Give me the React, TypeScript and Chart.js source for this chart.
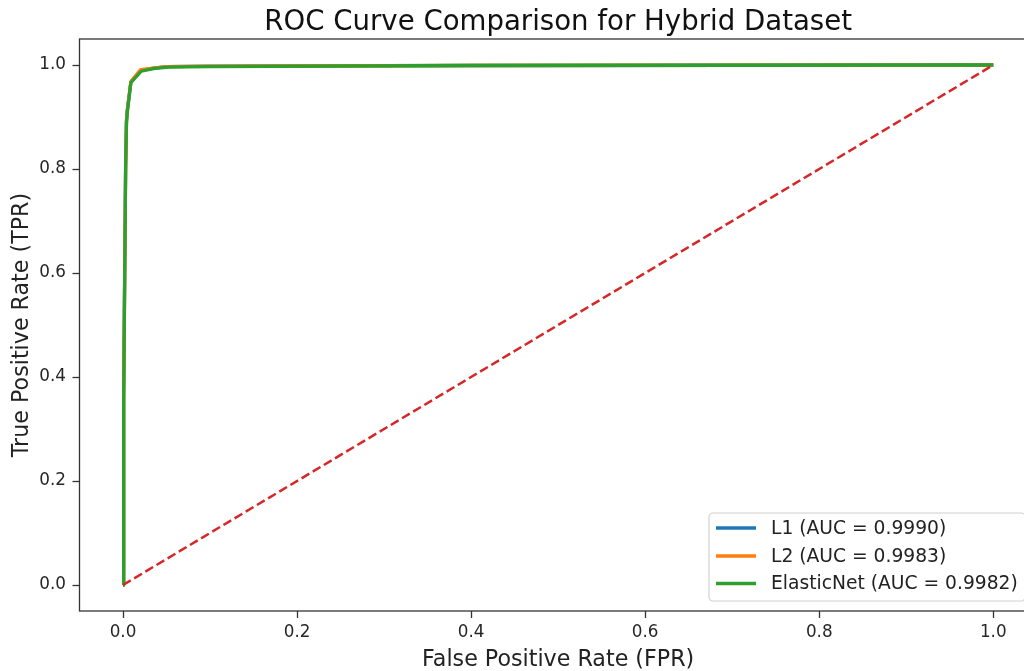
import React, { useEffect, useRef } from "react";
import { Chart, registerables } from "chart.js";

Chart.register(...registerables);

// ---- Data ----
const l1Fpr = [0, 0.0005, 0.001, 0.002, 0.003, 0.004, 0.005, 0.009, 0.02, 0.035, 0.05, 0.1, 0.4, 1.0];
const l1Tpr = [0, 0.16, 0.37, 0.62, 0.81, 0.895, 0.915, 0.967, 0.989, 0.994, 0.997, 0.998, 0.999, 1.0];

const l2Fpr = [0, 0.0005, 0.001, 0.002, 0.003, 0.004, 0.005, 0.009, 0.02, 0.035, 0.05, 0.1, 0.4, 1.0];
const l2Tpr = [0, 0.15, 0.36, 0.61, 0.8, 0.89, 0.912, 0.968, 0.991, 0.994, 0.997, 0.998, 0.999, 1.0];

const enFpr = [0, 0.0005, 0.001, 0.002, 0.003, 0.004, 0.005, 0.009, 0.021, 0.035, 0.052, 0.1, 0.4, 1.0];
const enTpr = [0, 0.15, 0.35, 0.6, 0.8, 0.89, 0.91, 0.966, 0.988, 0.993, 0.996, 0.997, 0.999, 1.0];

const chanceFpr = [0, 1];
const chanceTpr = [0, 1];

const seriesLabels = ["L1 (AUC = 0.9990)", "L2 (AUC = 0.9983)", "ElasticNet (AUC = 0.9982)"];
const seriesColors = ["#1f77b4", "#ff7f0e", "#2ca02c"];
const chanceColor = "#d62728";

const xTicks = [0, 0.2, 0.4, 0.6, 0.8, 1.0];
const yTicks = [0, 0.2, 0.4, 0.6, 0.8, 1.0];

const chartTitle = "ROC Curve Comparison for Hybrid Dataset";
const xLabel = "False Positive Rate (FPR)";
const yLabel = "True Positive Rate (TPR)";

const FONT = "'DejaVu Sans', 'Liberation Sans', sans-serif";

function pts(xs: number[], ys: number[]) {
  return xs.map((x, i) => ({ x, y: ys[i] }));
}

export default function App() {
  const ref = useRef<HTMLCanvasElement>(null);

  useEffect(() => {
    if (!ref.current) return;

    const overlay = {
      id: "overlay",
      afterDraw(chart: any) {
        const ctx = chart.ctx as CanvasRenderingContext2D;
        const a = chart.chartArea;
        ctx.save();
        // spines
        ctx.strokeStyle = "#333";
        ctx.lineWidth = 1.3;
        ctx.strokeRect(a.left, a.top, a.right - a.left, a.bottom - a.top);

        // title
        const cx = (a.left + a.right) / 2;
        ctx.fillStyle = "#111";
        ctx.textAlign = "center";
        ctx.textBaseline = "alphabetic";
        ctx.font = `27.6px ${FONT}`;
        ctx.fillText(chartTitle, cx, 29.5);

        // x label
        ctx.font = `22.2px ${FONT}`;
        ctx.fillStyle = "#222";
        ctx.fillText(xLabel, cx, 665.5);

        // y label
        ctx.save();
        ctx.translate(27.5, (a.top + a.bottom) / 2);
        ctx.rotate(-Math.PI / 2);
        ctx.fillText(yLabel, 0, 0);
        ctx.restore();

        // legend
        const lx = 709, ly = 513, lw = 316, lh = 88;
        ctx.beginPath();
        (ctx as any).roundRect(lx, ly, lw, lh, 4);
        ctx.fillStyle = "rgba(255,255,255,0.85)";
        ctx.fill();
        ctx.strokeStyle = "#d0d0d0";
        ctx.lineWidth = 1.2;
        ctx.stroke();
        const rows = [528, 556, 583.5];
        ctx.font = `18.7px ${FONT}`;
        ctx.textAlign = "left";
        ctx.textBaseline = "middle";
        seriesLabels.forEach((lab, i) => {
          ctx.strokeStyle = seriesColors[i];
          ctx.lineWidth = 3.3;
          ctx.beginPath();
          ctx.moveTo(716, rows[i]);
          ctx.lineTo(756, rows[i]);
          ctx.stroke();
          ctx.fillStyle = "#222";
          ctx.fillText(lab, 771, rows[i] + 1);
        });
        ctx.restore();
      },
    };

    const chart = new Chart(ref.current, {
      type: "line",
      data: {
        datasets: [
          {
            label: "chance",
            data: pts(chanceFpr, chanceTpr),
            borderColor: chanceColor,
            borderWidth: 2.5,
            borderDash: [9, 4],
            pointRadius: 0,
            order: 0,
          },
          {
            label: seriesLabels[2],
            data: pts(enFpr, enTpr),
            borderColor: seriesColors[2],
            borderWidth: 3.3,
            pointRadius: 0,
            order: 1,
          },
          {
            label: seriesLabels[1],
            data: pts(l2Fpr, l2Tpr),
            borderColor: seriesColors[1],
            borderWidth: 3.3,
            pointRadius: 0,
            order: 2,
          },
          {
            label: seriesLabels[0],
            data: pts(l1Fpr, l1Tpr),
            borderColor: seriesColors[0],
            borderWidth: 3.3,
            pointRadius: 0,
            order: 3,
          },
        ],
      },
      options: {
        animation: false,
        responsive: false,
        devicePixelRatio: 1,
        layout: { padding: { top: 39, right: 8.2, left: 0, bottom: 0 } },
        plugins: {
          legend: { display: false },
          title: { display: false },
          tooltip: { enabled: false },
        },
        elements: { line: { tension: 0, borderJoinStyle: "round", borderCapStyle: "butt" } },
        scales: {
          x: {
            type: "linear",
            min: -0.05,
            max: 1.05,
            afterBuildTicks: (s: any) => {
              s.ticks = xTicks.map((v) => ({ value: v }));
            },
            afterFit: (s: any) => {
              s.height = 60;
            },
            border: { display: false },
            grid: {
              display: true,
              drawOnChartArea: false,
              drawTicks: true,
              tickLength: 7,
              tickWidth: 1.3,
              tickColor: "#333",
            },
            ticks: {
              padding: 5,
              maxRotation: 0,
              autoSkip: false,
              color: "#262626",
              font: { family: FONT, size: 16.8 },
              callback: (v: any) => Number(v).toFixed(1),
            },
          },
          y: {
            type: "linear",
            min: -0.05,
            max: 1.05,
            afterBuildTicks: (s: any) => {
              s.ticks = yTicks.map((v) => ({ value: v }));
            },
            afterFit: (s: any) => {
              s.width = 79.5;
            },
            border: { display: false },
            grid: {
              display: true,
              drawOnChartArea: false,
              drawTicks: true,
              tickLength: 7,
              tickWidth: 1.3,
              tickColor: "#333",
            },
            ticks: {
              padding: 6.5,
              autoSkip: false,
              color: "#262626",
              font: { family: FONT, size: 16.8 },
              callback: (v: any) => Number(v).toFixed(1),
            },
          },
        },
      },
      plugins: [overlay],
    } as any);

    return () => chart.destroy();
  }, []);

  return (
    <div
      style={{
        position: "fixed",
        left: 0,
        top: 0,
        width: 1024,
        height: 671,
        overflow: "hidden",
        background: "#fff",
      }}
    >
      <canvas
        ref={ref}
        width={1045}
        height={671}
        style={{ width: 1045, height: 671, display: "block" }}
      />
    </div>
  );
}
